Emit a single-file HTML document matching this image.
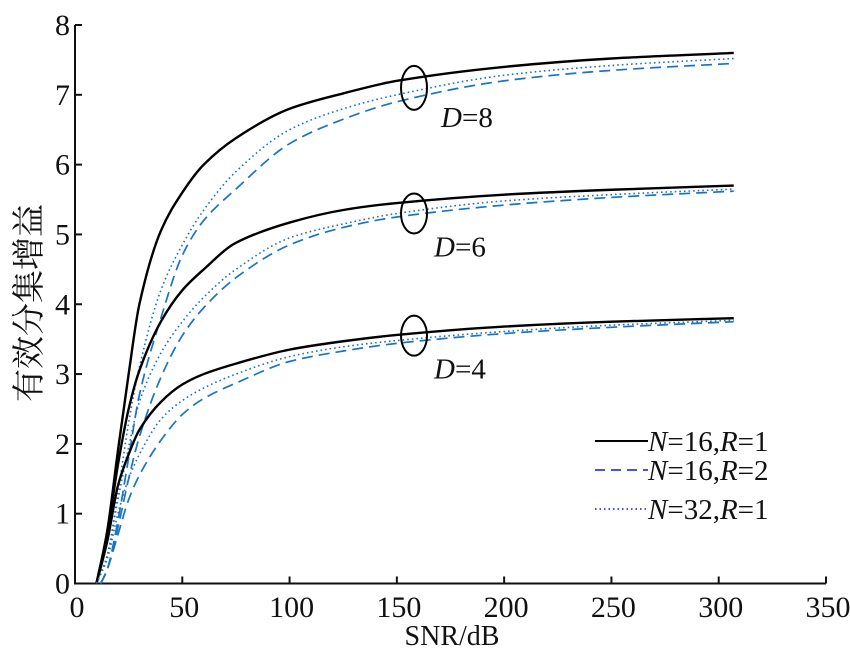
<!DOCTYPE html>
<html><head><meta charset="utf-8"><style>
body{margin:0;background:#fff}
svg text{font-family:"Liberation Serif","Noto Serif CJK SC",serif;fill:#111}
</style></head><body>
<svg id="chart" width="850" height="656" viewBox="0 0 850 656" xmlns="http://www.w3.org/2000/svg">
<g id="axes"></g>
<g id="series"></g>
<g id="annot"></g>
<g id="legend"></g>
</svg>
<script>
const xTicks=[0,50,100,150,200,250,300,350];
const yTicks=[0,1,2,3,4,5,6,7,8];
const xA=[10,15,20,25,30,40,50,60,75,100,125,150,200,250,307];
const xB=[12,15,20,25,30,40,50,60,75,100,125,150,200,250,307];
const d8Solid=[0,0.75,1.9,3.0,4.0,5.05,5.6,6.0,6.38,6.8,7.02,7.2,7.4,7.52,7.6];
const d8Dot=[0,0.4,1.3,2.3,3.1,4.2,4.85,5.35,5.9,6.5,6.8,7.0,7.28,7.42,7.52];
const d8Dash=[0,0.2,0.9,1.8,2.7,3.8,4.7,5.2,5.65,6.3,6.65,6.9,7.2,7.35,7.45];
const d6Solid=[0,0.7,1.7,2.5,3.05,3.75,4.2,4.5,4.88,5.17,5.35,5.45,5.57,5.64,5.7];
const d6Dot=[0,0.4,1.2,1.95,2.6,3.3,3.75,4.1,4.5,4.95,5.15,5.3,5.48,5.57,5.65];
const d6Dash=[0,0.2,0.8,1.5,2.1,2.95,3.55,3.95,4.38,4.85,5.1,5.25,5.42,5.53,5.62];
const d4Solid=[0,0.6,1.4,1.85,2.2,2.6,2.85,3.0,3.15,3.35,3.47,3.56,3.68,3.75,3.8];
const d4Dot=[0,0.35,1.0,1.5,1.85,2.35,2.62,2.8,3.0,3.25,3.39,3.48,3.61,3.7,3.77];
const d4Dash=[0,0.2,0.7,1.2,1.55,2.05,2.42,2.65,2.87,3.18,3.33,3.44,3.58,3.67,3.75];
const groups=[{x:158,y:7.1,label:"8"},{x:158,y:5.3,label:"6"},{x:158,y:3.55,label:"4"}];

const X0=75,X1=826,Y0=583.5,Y1=25;
const sx=v=>X0+(v/350)*(X1-X0);
const sy=v=>Y0-(v/8)*(Y0-Y1);
const NS="http://www.w3.org/2000/svg";
function mk(tag,parent){const e=document.createElementNS(NS,tag);parent.appendChild(e);return e;}
const axes=document.getElementById('axes');
let a=mk('path',axes);


a.setAttribute('d',`M${X0},${Y1}V${Y0}H${X1}`);a.setAttribute('stroke','#111');a.setAttribute('stroke-width','2');a.setAttribute('fill','none');
xTicks.forEach(t=>{
  const l=mk('line',axes);
  
  
  l.setAttribute('x1',sx(t));l.setAttribute('x2',sx(t));l.setAttribute('y1',Y0);l.setAttribute('y2',Y0-7);l.setAttribute('stroke','#111');l.setAttribute('stroke-width','2');
  const tx=mk('text',axes);
  
  
  tx.setAttribute('x',sx(t)+2);tx.setAttribute('y',617);tx.setAttribute('text-anchor','middle');tx.setAttribute('font-size','30');tx.textContent=t;
});
yTicks.forEach(t=>{
  const l=mk('line',axes);
  
  
  l.setAttribute('x1',X0);l.setAttribute('x2',X0+7);l.setAttribute('y1',sy(t));l.setAttribute('y2',sy(t));l.setAttribute('stroke','#111');l.setAttribute('stroke-width','2');
  const tx=mk('text',axes);
  
  
  tx.setAttribute('x',X0-5);tx.setAttribute('y',sy(t)+10);tx.setAttribute('text-anchor','end');tx.setAttribute('font-size','30');tx.textContent=t;
});
let xl=mk('text',axes);


xl.setAttribute('x',452);xl.setAttribute('y',645);xl.setAttribute('text-anchor','middle');xl.setAttribute('font-size','28');xl.textContent='SNR/dB';
let yl=mk('text',axes);


yl.setAttribute('transform','translate(40,303) rotate(-90)');yl.setAttribute('text-anchor','middle');yl.setAttribute('font-size','33');yl.textContent='有效分集增益';

function pathD(xs,ys){
  const p=xs.map((x,i)=>[sx(x),sy(ys[i])]);
  const n=p.length,m=[],d=[];
  for(let i=0;i<n-1;i++)d.push((p[i+1][1]-p[i][1])/(p[i+1][0]-p[i][0]));
  m[0]=d[0];m[n-1]=d[n-2];
  for(let i=1;i<n-1;i++){m[i]=(d[i-1]*d[i]<=0)?0:2/(1/d[i-1]+1/d[i]);}
  let s=`M${p[0][0]},${p[0][1]}`;
  for(let i=0;i<n-1;i++){
    const h=(p[i+1][0]-p[i][0])/3;
    s+=`C${p[i][0]+h},${p[i][1]+m[i]*h} ${p[i+1][0]-h},${p[i+1][1]-m[i+1]*h} ${p[i+1][0]},${p[i+1][1]}`;
  }
  return s;
}
const styles={solid:['#000','2.4',''],dash:['#1a74c4','1.7','11,6'],dot:['#1a74c4','1.6','1.6,3']};
const series=document.getElementById('series');
[[xA,d8Solid,'solid'],[xA,d8Dot,'dot'],[xB,d8Dash,'dash'],
 [xA,d6Solid,'solid'],[xA,d6Dot,'dot'],[xB,d6Dash,'dash'],
 [xA,d4Solid,'solid'],[xA,d4Dot,'dot'],[xB,d4Dash,'dash']].forEach(([xs,ys,s])=>{
  const p=mk('path',series);
  
  
  p.setAttribute('d',pathD(xs,ys));p.setAttribute('fill','none');
  p.setAttribute('stroke',styles[s][0]);p.setAttribute('stroke-width',styles[s][1]);
  if(styles[s][2])p.setAttribute('stroke-dasharray',styles[s][2]);
});
const annot=document.getElementById('annot');
groups.forEach((g,i)=>{
  const e=mk('ellipse',annot);
  
  
  e.setAttribute('cx',sx(g.x));e.setAttribute('cy',sy(g.y));e.setAttribute('rx',13);e.setAttribute('ry',i==0?22:20);
  e.setAttribute('fill','none');e.setAttribute('stroke','#000');e.setAttribute('stroke-width','2');
  const t=mk('text',annot);
  
  
  t.setAttribute('x',sx(g.x)+(i==0?27:20));t.setAttribute('y',sy(g.y)+(i==0?39:43));t.setAttribute('font-size','29');
  t.innerHTML='<tspan font-style="italic">D</tspan>='+g.label;
});
const leg=document.getElementById('legend');
[['solid','16','1',441],['dash','16','2',470],['dot','32','1',509]].forEach(([s,n,r,y])=>{
  const l=mk('line',leg);
  
  
  l.setAttribute('x1',595);l.setAttribute('x2',648);l.setAttribute('y1',y);l.setAttribute('y2',y);
  l.setAttribute('stroke',s=='solid'?'#000':'#1515e0');l.setAttribute('stroke-width',s=='solid'?'2':'1.5');
  if(styles[s][2])l.setAttribute('stroke-dasharray',s=='dash'?'10,6':'1.5,3');
  const t=mk('text',leg);
  
  
  t.setAttribute('x',648);t.setAttribute('y',y+10);t.setAttribute('font-size','29');
  t.innerHTML=`<tspan font-style="italic">N</tspan>=${n},<tspan font-style="italic">R</tspan>=${r}`;
});
</script>
</body></html>
